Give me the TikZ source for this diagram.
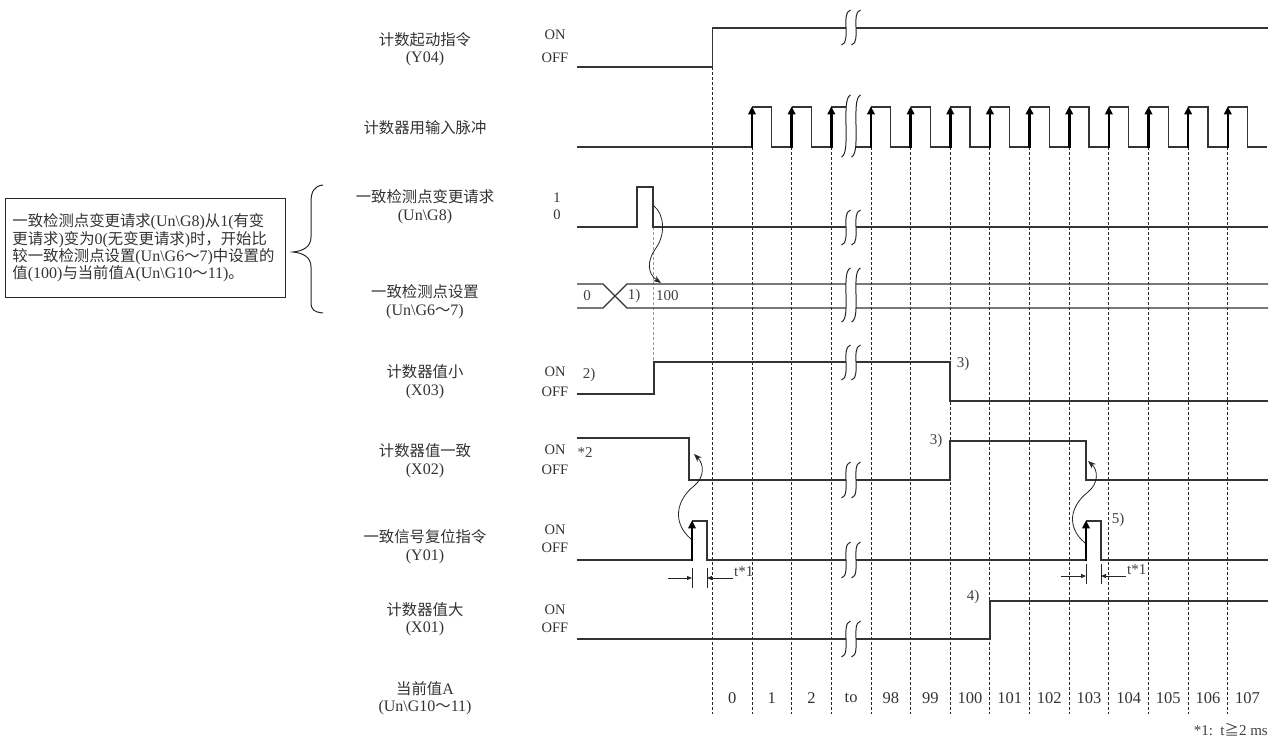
\documentclass[tikz,border=0pt]{standalone}
\usepackage{fontspec}
\setmainfont{Liberation Serif}
\newfontfamily\zh{Noto Sans CJK SC}[Scale=0.96]
\usetikzlibrary{arrows.meta}
\newcommand\bs{\textbackslash}
\newcommand\zt[1]{{\zh #1}}
% one integral-like curve at x=#1 from y=#2 (top) to y=#3 (bottom)
\newcommand\brkdown[3]{({#1+4.5},#2) .. controls ({#1-1},{#2+0.04*(#3-#2)}) and (#1,{#2+0.3*(#3-#2)}) .. (#1,{#2+0.5*(#3-#2)})
   .. controls (#1,{#2+0.7*(#3-#2)}) and ({#1+1},{#2+0.96*(#3-#2)}) .. ({#1-4.5},#3)}
\newcommand\brkup[3]{({#1-4.5},#3) .. controls ({#1+1},{#2+0.96*(#3-#2)}) and (#1,{#2+0.7*(#3-#2)}) .. (#1,{#2+0.5*(#3-#2)})
   .. controls (#1,{#2+0.3*(#3-#2)}) and ({#1-1},{#2+0.04*(#3-#2)}) .. ({#1+4.5},#2)}
% break mark: two curves between y=#1 and y=#2
\newcommand\brkmark[2]{%
  \fill[white] \brkdown{846}{#1}{#2} -- \brkup{856}{#1}{#2} -- cycle;
  \draw[brkc] \brkdown{846}{#1}{#2};
  \draw[brkc] \brkdown{856}{#1}{#2};
}
\begin{document}
\begin{tikzpicture}[x=1pt,y=-1pt,
  sig/.style={line width=1.2pt, draw=black!80, line join=miter},
  rise/.style={line width=2.6pt, draw=black, -{Triangle[length=8pt,width=7.5pt]}},
  gridl/.style={line width=0.9pt, dash pattern=on 3pt off 2pt, draw=black!85},
  graydash/.style={line width=0.9pt, dash pattern=on 3pt off 2pt, draw=black!40},
  brkc/.style={line width=1pt, draw=black!85},
  lab/.style={font=\fontsize{16}{17.5}\selectfont, align=center, inner sep=0pt, text=black!80},
  lvl/.style={font=\fontsize{14.5}{16}\selectfont, inner sep=0pt, text=black!80},
  num/.style={font=\fontsize{16.5}{17}\selectfont, inner sep=0pt, text=black!80},
  mk/.style={font=\fontsize{15}{16}\selectfont, inner sep=0pt, text=black!75},
  flow/.style={line width=0.8pt, draw=black!85, -{Stealth[length=8pt,width=6pt]}},
  dimarrow/.style={line width=0.8pt, draw=black!85, -{Triangle[length=5pt,width=4pt]}},
]
\useasboundingbox (0,0) rectangle (1275,738);

% ---------- grid lines ----------
\draw[gridl] (712.35,67) -- (712.35,714);
\foreach \k in {1,...,13} {
  \draw[gridl] ({752+(\k-1)*39.65},147) -- ({752+(\k-1)*39.65},714);
}
\draw[graydash] (653,227) -- (653,362);

% ---------- signal labels ----------
\node[lab] (lY04) at (425,49) {\zt{计数起动指令}\\(Y04)};
\node[lab] (lpulse) at (425,128) {\zt{计数器用输入脉冲}};
\node[lab] (lG8) at (425,206.5) {\zt{一致检测点变更请求}\\(Un\bs G8)};
\node[lab] (lG6) at (425,301.5) {\zt{一致检测点设置}\\(Un\bs G6\zt{～}7)};
\node[lab] (lX03) at (425,381.5) {\zt{计数器值小}\\(X03)};
\node[lab] (lX02) at (425,460.5) {\zt{计数器值一致}\\(X02)};
\node[lab] (lY01) at (425,546.5) {\zt{一致信号复位指令}\\(Y01)};
\node[lab] (lX01) at (425,619) {\zt{计数器值大}\\(X01)};
\node[lab] (lA) at (425,698) {\zt{当前值}A\\(Un\bs G10\zt{～}11)};

% ---------- level labels ----------
\node[lvl] (on1) at (555,35) {ON};
\node[lvl] (off1) at (555,58) {OFF};
\node[lvl] (one2) at (557,198) {1};
\node[lvl] (zero2) at (557,215) {0};
\node[lvl] (on3) at (555,372) {ON};
\node[lvl] (off3) at (555,392) {OFF};
\node[lvl] (on4) at (555,450) {ON};
\node[lvl] (off4) at (555,470) {OFF};
\node[lvl] (on5) at (555,530) {ON};
\node[lvl] (off5) at (555,548) {OFF};
\node[lvl] (on6) at (555,610) {ON};
\node[lvl] (off6) at (555,628) {OFF};

% ---------- Y04 ----------
\draw[sig] (577,67) -- (712.35,67) -- (712.35,28) -- (1268,28);

% ---------- input pulses ----------
\draw[sig] (577,147) -- (752,147);
\foreach \k in {1,...,13} {
  \pgfmathsetmacro\xa{752+(\k-1)*39.65}
  \draw[sig] (\xa,107) -- ({\xa+19.8},107) -- ({\xa+19.8},147) -- ({\xa+39.65},147);
}

% ---------- G8 ----------
\draw[sig] (577,227) -- (637,227) -- (637,187) -- (653,187) -- (653,227) -- (1268,227);

% ---------- G6-7 bus ----------
\draw[sig] (577,284) -- (603,284) -- (627,308) -- (1268,308);
\draw[sig] (577,308) -- (603,308) -- (627,284) -- (1268,284);
\node[mk] (v0) at (587,296) {0};
\node[mk] (m1) at (634,296) {1)};
\node[mk, anchor=west] (v100) at (656,296) {100};

% ---------- X03 ----------
\draw[sig] (577,394) -- (654,394) -- (654,362) -- (950,362) -- (950,401) -- (1268,401);
\node[mk] (m2) at (589,375) {2)};
\node[mk] (m3a) at (963,364) {3)};

% ---------- X02 ----------
\draw[sig] (577,438) -- (689,438) -- (689,480) -- (950,480) -- (950,441) -- (1086,441) -- (1086,480) -- (1268,480);
\node[mk] (s2) at (585,453) {*2};
\node[mk] (m3b) at (936,441) {3)};

% ---------- Y01 ----------
\draw[sig] (577,560) -- (692,560);
\draw[sig] (692,521) -- (707,521) -- (707,560) -- (1086,560);
\draw[sig] (1086,521) -- (1101,521) -- (1101,560) -- (1268,560);
\node[mk] (m5) at (1118,520) {5)};

% ---------- X01 ----------
\draw[sig] (577,639) -- (990,639) -- (990,601) -- (1268,601);
\node[mk] (m4) at (973,597) {4)};

% ---------- breaks ----------
\brkmark{10}{45}
\brkmark{95}{157}
\brkmark{210}{245}
\brkmark{268}{322}
\brkmark{345}{380}
\brkmark{462}{498}
\brkmark{542}{578}
\brkmark{621}{657}

% ---------- rising edges with arrows ----------
\foreach \k in {1,...,13} {
  \pgfmathsetmacro\xa{752+(\k-1)*39.65}
  \draw[rise] (\xa,147.6) -- (\xa,106.4);
}
\draw[rise] (692,560.6) -- (692,520.4);
\draw[rise] (1086,560.6) -- (1086,520.4);

% ---------- cause arrows ----------
\coordinate (g8fall) at (654,206);
\coordinate (g6set) at (661,283);
\draw[flow] (g8fall) .. controls (664,214) and (666,234) .. (656,248) .. controls (646,262) and (648,274) .. (g6set);

\coordinate (y01a) at (691,539);
\coordinate (x02a) at (694,454);
\draw[flow] (y01a) .. controls (672,523) and (676,500) .. (694,486) .. controls (705,477) and (704,464) .. (x02a);

\coordinate (y01b) at (1085,543);
\coordinate (x02b) at (1088,461);
\draw[flow] (y01b) .. controls (1066,527) and (1070,506) .. (1088,492) .. controls (1099,483) and (1098,470) .. (x02b);

% ---------- t*1 dimensions ----------
\draw[line width=0.8pt, draw=black!85] (692,568) -- (692,588) (707,568) -- (707,588);
\coordinate (ta1) at (668,578);
\coordinate (ta2) at (692,578);
\coordinate (tb1) at (733,578);
\coordinate (tb2) at (707,578);
\draw[dimarrow] (ta1) -- (ta2);
\draw[dimarrow] (tb1) -- (tb2);
\node[mk, anchor=west] (t1a) at (734,572) {t*1};

\draw[line width=0.8pt, draw=black!85] (1086,564) -- (1086,584) (1101,564) -- (1101,584);
\coordinate (tc1) at (1061,576);
\coordinate (tc2) at (1086,576);
\coordinate (td1) at (1126,576);
\coordinate (td2) at (1101,576);
\draw[dimarrow] (tc1) -- (tc2);
\draw[dimarrow] (td1) -- (td2);
\node[mk, anchor=west] (t1b) at (1127,570) {t*1};

% ---------- current value numbers ----------
\foreach \k/\t in {0/0,1/1,2/2,3/to,4/98,5/99,6/100,7/101,8/102,9/103,10/104,11/105,12/106,13/107} {
  \node[num] (n\k) at ({712.35+\k*39.65+19.8},698) {\t};
}

% ---------- footnote ----------
\node[mk, anchor=east] (foot) at (1268,730) {*1:\ \ t\zt{≧}2 ms};

% ---------- note box and brace ----------
\node[draw=black!85, line width=1pt, anchor=north west, minimum width=280pt, minimum height=99pt,
      text width=266pt, align=left, inner xsep=7pt, inner ysep=0pt, text=black!80,
      font=\fontsize{16}{17.3}\selectfont] (note) at (5,198)
  {\zt{一致检测点变更请求}(Un\bs G8)\zt{从}1(\zt{有变}\\
   \zt{更请求})\zt{变为}0(\zt{无变更请求})\zt{时，开始比}\\
   \zt{较一致检测点设置}(Un\bs G6\zt{～}7)\zt{中设置的}\\
   \zt{值}(100)\zt{与当前值}A(Un\bs G10\zt{～}11)\zt{。}};
\draw[line width=1pt, draw=black!85] (323,185) .. controls (314,186) and (311,192) .. (311,202) -- (311,237)
  .. controls (311,247) and (303,251) .. (293,252) .. controls (303,253) and (311,257) .. (311,267)
  -- (311,302) .. controls (311,310) and (314,312) .. (323,313);
\end{tikzpicture}
\end{document}
